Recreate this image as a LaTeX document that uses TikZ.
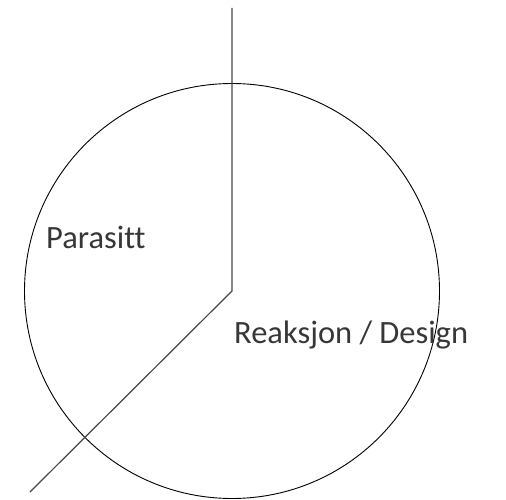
\documentclass[tikz,border=0pt]{standalone}
\usepackage{fontspec}
\setmainfont[Ligatures=NoCommon]{Carlito}
\usepackage{xcolor}
\definecolor{pietext}{RGB}{55, 55, 55}
\definecolor{pieline}{RGB}{70, 70, 70}
\usetikzlibrary{positioning}

\begin{document}
\begin{tikzpicture}[x=1pt,y=-1pt,
    sector/.style={pietext, anchor=base west, inner sep=0pt, font=\fontsize{32.5}{38}\selectfont},
    divider/.style={pieline, line width=1.2pt}]
    \useasboundingbox (0,0) rectangle (506,500);

    % Pie outline
    \coordinate (centre) at (232,291);
    \draw[black, line width=0.9pt] (centre) circle (207.5);

    % Dividing lines
    \coordinate (topend) at (232,8);
    \coordinate (lowend) at (30,492);
    \draw[divider] (topend) -- (centre) -- (lowend);

    % Labels
    \node[sector] (parasitt) at (46,248) {Parasitt};
    \node[sector] (reaksjon) at (234,343) {Reaksjon / Design};
\end{tikzpicture}
\end{document}
